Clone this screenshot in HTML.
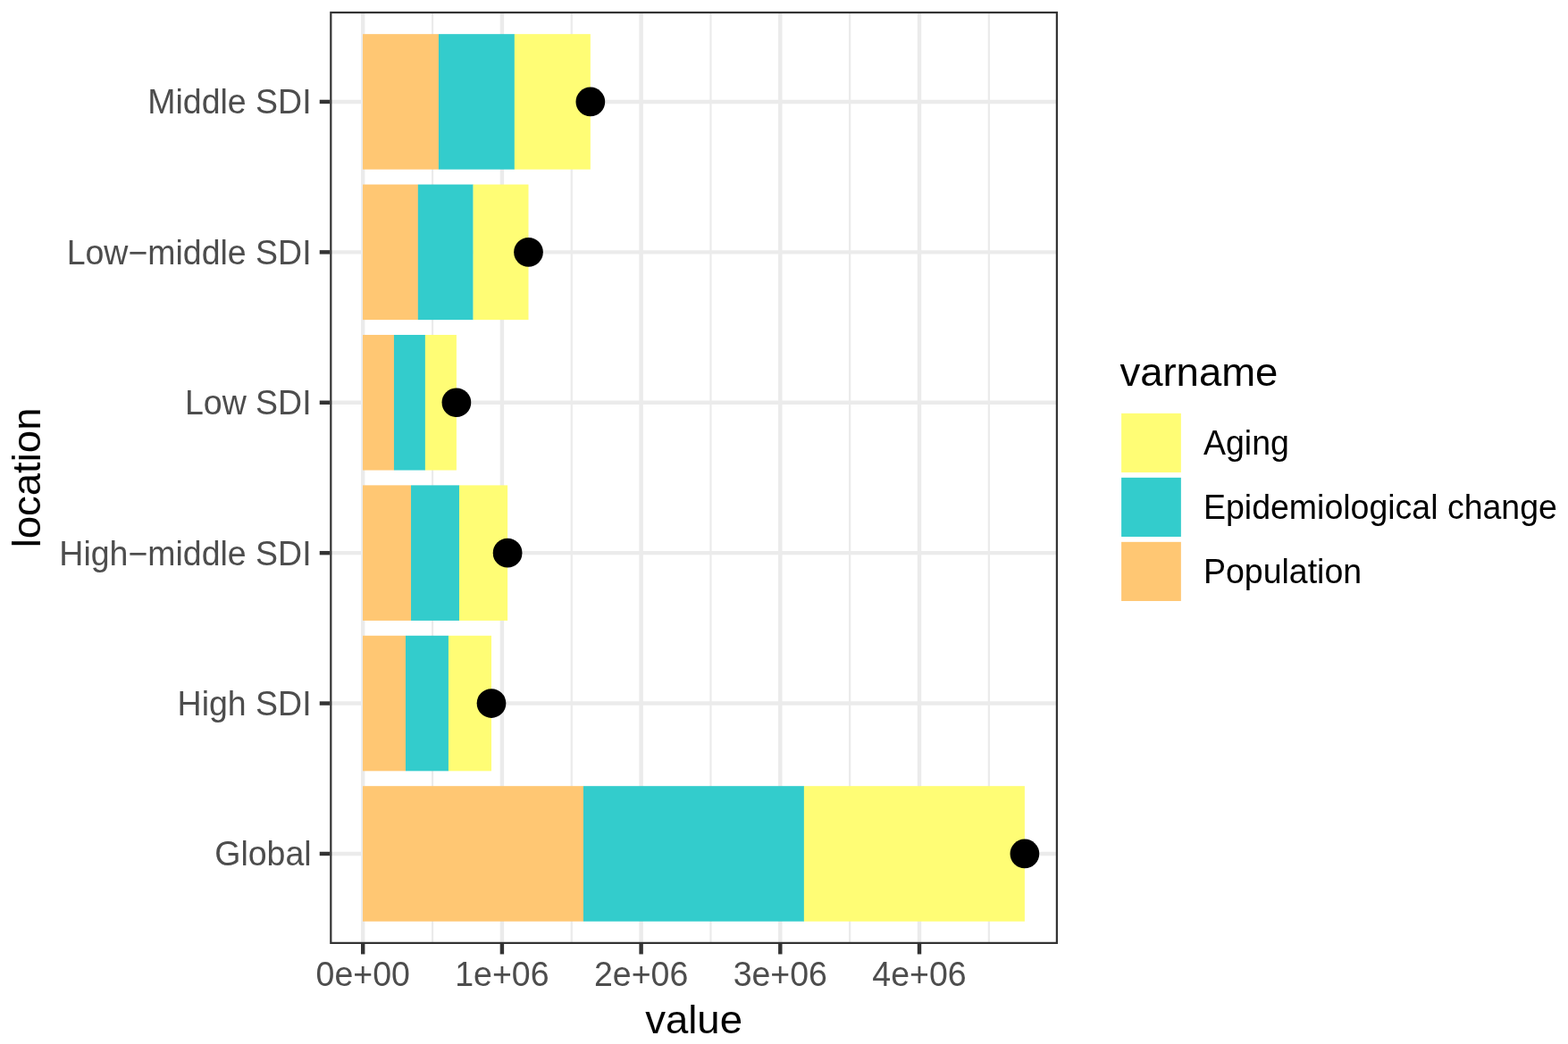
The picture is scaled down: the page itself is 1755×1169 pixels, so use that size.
<!DOCTYPE html>
<html lang="en"><head><meta charset="utf-8"><title>Decomposition by location</title>
<style>html,body{margin:0;padding:0;background:#fff;overflow:hidden}svg{display:block}text{font-family:"Liberation Sans",sans-serif;}.ax{font-size:37.50px;fill:#4D4D4D}.lg{font-size:37.50px;fill:#000}.ti{font-size:45.50px;fill:#000}</style></head><body>
<svg width="1755" height="1169" viewBox="0 0 1755 1169">
<rect x="0" y="0" width="1755" height="1169" fill="#fff"/>
<g stroke="#EBEBEB" fill="none">
<line x1="484.05" x2="484.05" y1="12.90" y2="1057.00" stroke-width="2.22"/>
<line x1="639.75" x2="639.75" y1="12.90" y2="1057.00" stroke-width="2.22"/>
<line x1="795.45" x2="795.45" y1="12.90" y2="1057.00" stroke-width="2.22"/>
<line x1="951.15" x2="951.15" y1="12.90" y2="1057.00" stroke-width="2.22"/>
<line x1="1106.85" x2="1106.85" y1="12.90" y2="1057.00" stroke-width="2.22"/>
<line x1="406.20" x2="406.20" y1="12.90" y2="1057.00" stroke-width="4.44"/>
<line x1="561.90" x2="561.90" y1="12.90" y2="1057.00" stroke-width="4.44"/>
<line x1="717.60" x2="717.60" y1="12.90" y2="1057.00" stroke-width="4.44"/>
<line x1="873.30" x2="873.30" y1="12.90" y2="1057.00" stroke-width="4.44"/>
<line x1="1029.00" x2="1029.00" y1="12.90" y2="1057.00" stroke-width="4.44"/>
<line x1="369.20" x2="1184.00" y1="113.94" y2="113.94" stroke-width="4.44"/>
<line x1="369.20" x2="1184.00" y1="282.35" y2="282.35" stroke-width="4.44"/>
<line x1="369.20" x2="1184.00" y1="450.75" y2="450.75" stroke-width="4.44"/>
<line x1="369.20" x2="1184.00" y1="619.15" y2="619.15" stroke-width="4.44"/>
<line x1="369.20" x2="1184.00" y1="787.55" y2="787.55" stroke-width="4.44"/>
<line x1="369.20" x2="1184.00" y1="955.96" y2="955.96" stroke-width="4.44"/>
</g>
<g stroke="none">
<rect x="406.05" y="38.16" width="85.03" height="151.56" fill="#FFC773"/>
<rect x="490.93" y="38.16" width="85.03" height="151.56" fill="#33CCCC"/>
<rect x="575.82" y="38.16" width="85.03" height="151.56" fill="#FFFD75"/>
<rect x="406.05" y="206.56" width="61.92" height="151.56" fill="#FFC773"/>
<rect x="467.82" y="206.56" width="61.92" height="151.56" fill="#33CCCC"/>
<rect x="529.58" y="206.56" width="61.92" height="151.56" fill="#FFFD75"/>
<rect x="406.05" y="374.97" width="35.05" height="151.56" fill="#FFC773"/>
<rect x="440.95" y="374.97" width="35.05" height="151.56" fill="#33CCCC"/>
<rect x="475.85" y="374.97" width="35.05" height="151.56" fill="#FFFD75"/>
<rect x="406.05" y="543.37" width="54.12" height="151.56" fill="#FFC773"/>
<rect x="460.02" y="543.37" width="54.12" height="151.56" fill="#33CCCC"/>
<rect x="513.98" y="543.37" width="54.12" height="151.56" fill="#FFFD75"/>
<rect x="406.05" y="711.77" width="48.08" height="151.56" fill="#FFC773"/>
<rect x="453.98" y="711.77" width="48.08" height="151.56" fill="#33CCCC"/>
<rect x="501.92" y="711.77" width="48.08" height="151.56" fill="#FFFD75"/>
<rect x="406.05" y="880.18" width="247.05" height="151.56" fill="#FFC773"/>
<rect x="652.95" y="880.18" width="247.05" height="151.56" fill="#33CCCC"/>
<rect x="899.85" y="880.18" width="247.05" height="151.56" fill="#FFFD75"/>
</g>
<g fill="#000">
<circle cx="660.85" cy="113.94" r="16.35"/>
<circle cx="591.50" cy="282.35" r="16.35"/>
<circle cx="510.90" cy="450.75" r="16.35"/>
<circle cx="568.10" cy="619.15" r="16.35"/>
<circle cx="550.00" cy="787.55" r="16.35"/>
<circle cx="1146.90" cy="955.96" r="16.35"/>
</g>
<rect x="370.31" y="14.01" width="812.58" height="1041.88" fill="none" stroke="#333333" stroke-width="2.22"/>
<g stroke="#333333" stroke-width="4.44">
<line x1="357.74" x2="369.20" y1="113.94" y2="113.94"/>
<line x1="357.74" x2="369.20" y1="282.35" y2="282.35"/>
<line x1="357.74" x2="369.20" y1="450.75" y2="450.75"/>
<line x1="357.74" x2="369.20" y1="619.15" y2="619.15"/>
<line x1="357.74" x2="369.20" y1="787.55" y2="787.55"/>
<line x1="357.74" x2="369.20" y1="955.96" y2="955.96"/>
<line x1="406.20" x2="406.20" y1="1057.00" y2="1068.46"/>
<line x1="561.90" x2="561.90" y1="1057.00" y2="1068.46"/>
<line x1="717.60" x2="717.60" y1="1057.00" y2="1068.46"/>
<line x1="873.30" x2="873.30" y1="1057.00" y2="1068.46"/>
<line x1="1029.00" x2="1029.00" y1="1057.00" y2="1068.46"/>
</g>
<text class="ax" transform="translate(348.6 127.34) scale(1 1.030)" text-anchor="end">Middle SDI</text>
<text class="ax" transform="translate(348.6 295.75) scale(1 1.030)" text-anchor="end">Low−middle SDI</text>
<text class="ax" transform="translate(348.6 464.15) scale(1 1.030)" text-anchor="end">Low SDI</text>
<text class="ax" transform="translate(348.6 632.55) scale(1 1.030)" text-anchor="end">High−middle SDI</text>
<text class="ax" transform="translate(348.6 800.95) scale(1 1.030)" text-anchor="end">High SDI</text>
<text class="ax" transform="translate(348.6 969.36) scale(1 1.030)" text-anchor="end">Global</text>
<text class="ax" transform="translate(406.20 1103.9) scale(1 1.030)" text-anchor="middle">0e+00</text>
<text class="ax" transform="translate(561.90 1103.9) scale(1 1.030)" text-anchor="middle">1e+06</text>
<text class="ax" transform="translate(717.60 1103.9) scale(1 1.030)" text-anchor="middle">2e+06</text>
<text class="ax" transform="translate(873.30 1103.9) scale(1 1.030)" text-anchor="middle">3e+06</text>
<text class="ax" transform="translate(1029.00 1103.9) scale(1 1.030)" text-anchor="middle">4e+06</text>
<text class="ti" transform="translate(776.60 1157.0) scale(1 0.975)" text-anchor="middle">value</text>
<text class="ti" transform="translate(44.9 534.95) rotate(-90) scale(1 0.975)" text-anchor="middle">location</text>
<text class="ti" transform="translate(1253.4 431.8) scale(1 0.975)">varname</text>
<rect x="1255.1" y="462.83" width="66.75" height="66.15" fill="#FFFD75"/>
<text class="lg" transform="translate(1347.0 508.90) scale(1 1.030)">Aging</text>
<rect x="1255.1" y="534.83" width="66.75" height="66.15" fill="#33CCCC"/>
<text class="lg" transform="translate(1347.0 580.90) scale(1 1.030)">Epidemiological change</text>
<rect x="1255.1" y="606.83" width="66.75" height="66.15" fill="#FFC773"/>
<text class="lg" transform="translate(1347.0 652.90) scale(1 1.030)">Population</text>
</svg></body></html>
